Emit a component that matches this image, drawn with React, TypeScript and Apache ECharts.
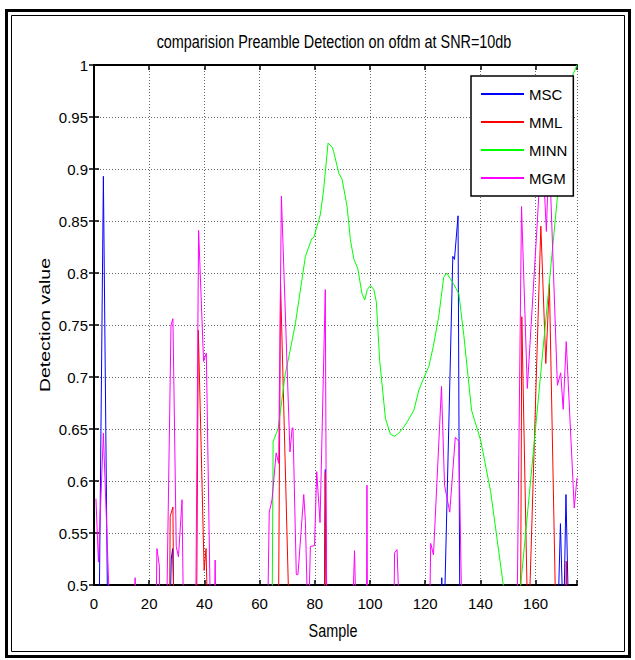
import React, { useEffect, useRef } from "react";
import * as echarts from "echarts";

const seriesNames = ["MSC", "MML", "MINN", "MGM"];
const seriesColors = ["#0000ff", "#ff0000", "#00ff00", "#ff00ff"];

const xTicks = [0, 20, 40, 60, 80, 100, 120, 140, 160];
const yTicks = [0.5, 0.55, 0.6, 0.65, 0.7, 0.75, 0.8, 0.85, 0.9, 0.95, 1];

const msc: number[][] = [
  [0, 0.4], [1.8, 0.45], [3.4, 0.893], [5.0, 0.45],
  [27.4, 0.45], [28.0, 0.525], [28.5, 0.535], [29.2, 0.45],
  [83.3, 0.4], [83.8, 0.611], [84.4, 0.4],
  [125.6, 0.4], [126.0, 0.507], [126.4, 0.4],
  [127.0, 0.48], [130.0, 0.816], [130.6, 0.813], [131.9, 0.855], [133.0, 0.2],
  [167.9, 0.45], [169.0, 0.559], [170.1, 0.45], [171.0, 0.587], [172.1, 0.45], [175, 0.4],
];

const mml: number[][] = [
  [0, 0.3], [27.0, 0.3], [27.6, 0.566], [28.6, 0.575], [29.4, 0.3],
  [36.8, 0.3], [37.8, 0.745], [39.9, 0.514], [40.6, 0.535], [41.3, 0.45],
  [66.8, 0.45], [67.6, 0.79], [70.4, 0.5], [70.8, 0.4],
  [83.3, 0.4], [83.8, 0.608], [84.4, 0.4],
  [154.3, 0.3], [155.0, 0.758], [157.3, 0.44], [161.9, 0.845], [163.7, 0.713],
  [165.0, 0.79], [167.2, 0.485], [167.5, 0.4],
  [170.8, 0.4], [171.1, 0.523], [171.4, 0.4], [175, 0.4],
];

const minn: number[][] = [
  [0, 0.3], [64.5, 0.45], [64.9, 0.638], [66.7, 0.65], [69.3, 0.703], [71.1, 0.726],
  [73.0, 0.752], [76.6, 0.816], [78.9, 0.833], [79.6, 0.834], [82.0, 0.856],
  [83.2, 0.88], [84.8, 0.925], [86.3, 0.921], [86.8, 0.917], [88.7, 0.896],
  [89.9, 0.89], [91.7, 0.864], [92.9, 0.832], [94.1, 0.814], [95.6, 0.804],
  [97.1, 0.78], [98.1, 0.774], [99.0, 0.784], [100.2, 0.788], [101.4, 0.784],
  [102.3, 0.772], [103.5, 0.716], [105.6, 0.66], [107.4, 0.645], [108.9, 0.643],
  [110.4, 0.646], [112.0, 0.651], [113.5, 0.657], [115.9, 0.668], [117.7, 0.6875],
  [119.5, 0.699], [121.3, 0.71], [122.9, 0.729], [124.9, 0.758], [126.7, 0.796],
  [127.8, 0.8], [129.0, 0.795], [130.4, 0.789], [132.2, 0.78], [134.0, 0.74],
  [136.8, 0.668], [140.1, 0.639], [143.7, 0.59], [148.3, 0.5], [148.8, 0.48],
  [153.9, 0.48], [167.9, 0.873], [170.9, 0.95], [173.4, 0.99], [175, 1.0],
];

const mgm: number[][] = [
  [0.7, 0.583], [1.6, 0.522], [3.4, 0.646], [6.0, 0.45],
  [14.6, 0.45], [14.9, 0.507], [15.2, 0.45],
  [22.4, 0.45], [22.8, 0.535], [23.7, 0.518], [23.9, 0.45],
  [26.2, 0.45], [27.9, 0.75], [28.6, 0.756], [29.8, 0.537], [30.6, 0.527], [31.9, 0.582], [32.5, 0.45],
  [36.8, 0.45], [37.9, 0.841], [39.7, 0.715], [40.7, 0.723], [42.3, 0.45],
  [43.5, 0.45], [43.9, 0.524], [44.2, 0.45],
  [62.8, 0.45], [63.5, 0.57], [64.5, 0.582], [66.0, 0.627], [66.9, 0.617], [67.9, 0.874],
  [71.0, 0.628], [71.8, 0.651], [72.1, 0.651], [73.3, 0.51], [73.9, 0.51], [76.0, 0.587],
  [76.6, 0.561], [77.6, 0.45], [78.4, 0.537], [79.9, 0.538], [80.7, 0.609], [81.9, 0.56],
  [83.8, 0.784], [84.6, 0.3],
  [93.4, 0.45], [94.4, 0.533], [95.1, 0.45],
  [98.5, 0.3], [98.9, 0.596], [99.3, 0.3],
  [108.6, 0.45], [108.9, 0.531], [109.8, 0.534], [110.9, 0.45],
  [121.5, 0.45], [122.0, 0.54], [123.0, 0.529], [125.9, 0.691], [127.0, 0.596], [128.9, 0.57],
  [130.9, 0.642], [132.2, 0.638], [133.4, 0.45],
  [153.0, 0.4], [154.9, 0.864], [157.0, 0.689], [160.6, 0.848], [162.3, 0.93], [163.9, 0.84],
  [164.9, 0.92], [167.9, 0.692], [169.1, 0.704], [170.0, 0.669], [171.1, 0.734], [174.0, 0.574],
  [175, 0.603],
];

const seriesData = [msc, mml, minn, mgm];

const SANS = "'Liberation Sans', Arial, sans-serif";

export default function App() {
  const ref = useRef<HTMLDivElement>(null);
  useEffect(() => {
    document.body.style.margin = "0";
    const chart = echarts.init(ref.current!, null, { renderer: "svg" });
    const grid = { left: 94, top: 65, width: 483, height: 520 };
    const axisLine = { show: true, lineStyle: { color: "#000", width: 2 } };
    const axisTick = { show: true, inside: true, length: 5, lineStyle: { color: "#000", width: 1.5 } };
    const splitLine = { show: true, lineStyle: { color: "#666", width: 1, type: [1, 2] as any } };
    const pick = (list: number[], v: number) => {
      const t = list.find((k) => Math.abs(k - v) < 1e-6);
      return t === undefined ? "" : String(t);
    };
    chart.setOption({
      animation: false,
      backgroundColor: "#fff",
      grid,
      xAxis: [
        {
          type: "value", min: 0, max: 175, interval: 20, position: "bottom",
          axisLine, axisTick, splitLine,
          axisLabel: { show: true, margin: 11, fontSize: 15, fontFamily: SANS, color: "#000",
            formatter: (v: number) => pick(xTicks, v) },
        },
        {
          type: "value", min: 0, max: 175, interval: 20, position: "top",
          axisLine, axisTick, splitLine: { show: false }, axisLabel: { show: false },
        },
      ],
      yAxis: [
        {
          type: "value", min: 0.5, max: 1, interval: 0.05, position: "left",
          axisLine, axisTick, splitLine,
          axisLabel: { margin: 6, fontSize: 15, fontFamily: SANS, color: "#000",
            formatter: (v: number) => pick(yTicks, v) },
        },
        {
          type: "value", min: 0.5, max: 1, interval: 0.05, position: "right",
          axisLine, axisTick, splitLine: { show: false }, axisLabel: { show: false },
        },
      ],
      legend: {
        orient: "vertical", left: 471, top: 76,
        padding: [9, 6, 9, 10], itemWidth: 43, itemHeight: 2, itemGap: 10,
        icon: "rect",
        backgroundColor: "#fff", borderColor: "#000", borderWidth: 1.5,
        textStyle: { fontSize: 15, lineHeight: 18, fontFamily: SANS, color: "#000" },
        data: seriesNames,
      },
      series: seriesNames.map((name, i) => ({
        name, type: "line", data: seriesData[i], showSymbol: false, symbol: "none",
        clip: true, color: seriesColors[i],
        lineStyle: { color: seriesColors[i], width: 1 },
      })),
      graphic: [
        { type: "rect", shape: { x: 6.5, y: 10.5, width: 623, height: 646 }, style: { fill: "none", stroke: "#000", lineWidth: 3 }, silent: true },
        { type: "rect", shape: { x: 11.5, y: 15.5, width: 613, height: 636 }, style: { fill: "none", stroke: "#000", lineWidth: 1 }, silent: true },
        { type: "text", x: 334, y: 42, scaleY: 1.3, style: { text: "comparision Preamble Detection on ofdm at SNR=10db", fontSize: 14.4, fontFamily: SANS, fill: "#000", align: "center", verticalAlign: "middle" } },
        { type: "text", x: 333, y: 631, scaleY: 1.3, style: { text: "Sample", fontSize: 14.4, fontFamily: SANS, fill: "#000", align: "center", verticalAlign: "middle" } },
        { type: "text", x: 45, y: 325, rotation: Math.PI / 2, scaleX: 1.35, style: { text: "Detection value", fontSize: 14.4, fontFamily: SANS, fill: "#000", align: "center", verticalAlign: "middle" } },
      ],
    });
    return () => chart.dispose();
  }, []);
  return <div ref={ref} style={{ width: 635, height: 660 }} />;
}
